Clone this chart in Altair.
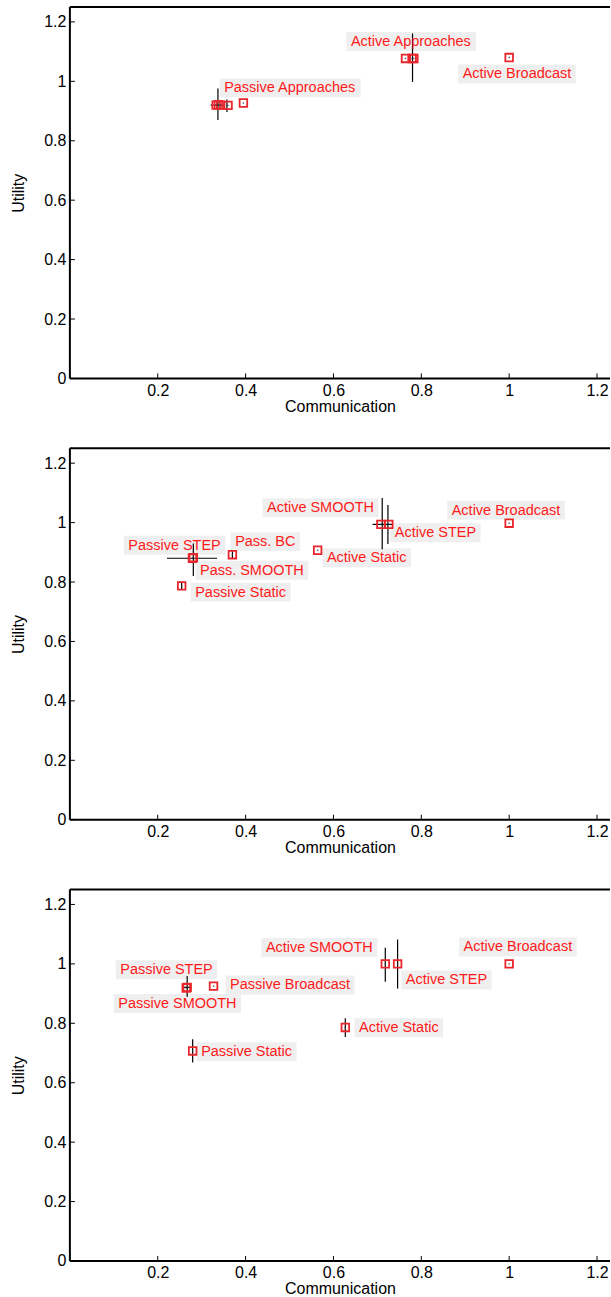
import altair as alt
import pandas as pd

FONT = "Liberation Sans"
LABEL_RED = "#ff1a1a"
MARK_RED = "#e8262b"
BOX_GREY = "#efefef"

PX_X = 440.0      # pixels per unit of communication
PX_Y = 297.6      # pixels per unit of utility
W = 541
H = 372
X_MAX = W / PX_X
Y_MAX = H / PX_Y
LABEL_SIZE = 14.5

# Arial advance widths (per 1000 em) for sizing the label backgrounds
ARIAL = {
    "A": 667, "B": 667, "C": 722, "E": 667, "H": 722, "M": 833, "O": 778,
    "P": 667, "S": 667, "T": 611, "a": 556, "c": 500, "d": 556, "e": 556,
    "h": 556, "i": 222, "o": 556, "p": 556, "r": 333, "s": 500, "t": 278,
    "v": 500, " ": 278, ".": 278,
}

x_ticks = [0.2, 0.4, 0.6, 0.8, 1.0, 1.2]
y_ticks = [0.0, 0.2, 0.4, 0.6, 0.8, 1.0, 1.2]

# ---- top: approach families ----
top_comm = [0.333, 0.338, 0.343, 0.360, 0.395, 0.764, 0.779, 0.783, 1.000]
top_util = [0.920, 0.921, 0.920, 0.919, 0.927, 1.077, 1.077, 1.077, 1.080]
top_vbar_comm = [0.337, 0.3575, 0.780]
top_vbar_lo = [0.870, 0.897, 0.998]
top_vbar_hi = [0.976, 0.939, 1.161]
top_hbar_util = [0.920]
top_hbar_lo = [0.3205]
top_hbar_hi = [0.3507]
top_labels = ["Active Approaches", "Active Broadcast", "Passive Approaches"]
top_label_x = [0.6295, 0.884, 0.341]
top_label_y = [1.134, 1.025, 0.978]

# ---- middle ----
mid_comm = [1.000, 0.708, 0.726, 0.564, 0.370, 0.281, 0.279, 0.2545]
mid_util = [0.998, 0.994, 0.994, 0.907, 0.892, 0.882, 0.880, 0.787]
mid_vbar_comm = [0.711, 0.724, 0.281, 0.2545, 0.370]
mid_vbar_lo = [0.910, 0.928, 0.820, 0.775, 0.880]
mid_vbar_hi = [1.083, 1.059, 0.930, 0.800, 0.904]
mid_hbar_util = [0.994, 0.880]
mid_hbar_lo = [0.689, 0.221]
mid_hbar_hi = [0.735, 0.335]
mid_labels = ["Active SMOOTH", "Active STEP", "Active Broadcast", "Active Static",
              "Pass. BC", "Passive STEP", "Pass. SMOOTH", "Passive Static"]
mid_label_x = [0.4386, 0.7295, 0.859, 0.575, 0.366, 0.1227, 0.286, 0.275]
mid_label_y = [1.050, 0.966, 1.042, 0.882, 0.936, 0.924, 0.840, 0.766]

# ---- bottom ----
bot_comm = [1.000, 0.718, 0.746, 0.627, 0.2795, 0.267, 0.265, 0.327]
bot_util = [1.000, 1.000, 1.000, 0.786, 0.707, 0.921, 0.919, 0.925]
bot_vbar_comm = [0.718, 0.746, 0.627, 0.2795, 0.267]
bot_vbar_lo = [0.940, 0.917, 0.754, 0.668, 0.889]
bot_vbar_hi = [1.054, 1.082, 0.817, 0.746, 0.959]
bot_hbar_util = [0.921]
bot_hbar_lo = [0.257]
bot_hbar_hi = [0.277]
bot_labels = ["Active SMOOTH", "Active STEP", "Active Broadcast", "Passive STEP",
              "Passive Broadcast", "Passive SMOOTH", "Active Static", "Passive Static"]
bot_label_x = [0.436, 0.7545, 0.886, 0.1045, 0.3545, 0.100, 0.648, 0.2886]
bot_label_y = [1.055, 0.946, 1.057, 0.980, 0.929, 0.867, 0.785, 0.704]


def text_width(s, size):
    return sum(ARIAL.get(c, 556) for c in s) / 1000.0 * size


XS = alt.Scale(domain=[0, X_MAX], nice=False, zero=False)
YS = alt.Scale(domain=[0, Y_MAX], nice=False, zero=False)
X_AXIS = alt.Axis(title="Communication", values=x_ticks, format=".1~f",
                  labelPadding=4, titlePadding=0)
Y_AXIS = alt.Axis(title="Utility", values=y_ticks, format=".1~f",
                  labelPadding=4, titlePadding=17)


def xq(field):
    return alt.X(field, type="quantitative", scale=XS, axis=X_AXIS)


def yq(field):
    return alt.Y(field, type="quantitative", scale=YS, axis=Y_AXIS)


def panel(comm, util, vb_c, vb_lo, vb_hi, hb_u, hb_lo, hb_hi, labels, lx, ly):
    pts = pd.DataFrame({"comm": comm, "util": util})
    vbars = pd.DataFrame({"comm": vb_c, "lo": vb_lo, "hi": vb_hi})
    hbars = pd.DataFrame({"util": hb_u, "lo": hb_lo, "hi": hb_hi})
    lab = pd.DataFrame({"text": labels, "lx": lx, "ly": ly})
    lab["bx1"] = lab["lx"] + [(text_width(t, LABEL_SIZE) + 9) / PX_X for t in labels]
    lab["by0"] = lab["ly"] - 9.5 / PX_Y
    lab["by1"] = lab["ly"] + 9.5 / PX_Y

    boxes = alt.Chart(lab).mark_rect(color=BOX_GREY).encode(
        x=xq("lx"), x2="bx1:Q", y=yq("by0"), y2="by1:Q",
    )
    texts = alt.Chart(lab).mark_text(
        align="left", baseline="middle", dx=4.5, dy=0.5,
        font=FONT, fontSize=LABEL_SIZE, color=LABEL_RED,
    ).encode(x=xq("lx"), y=yq("ly"), text="text:N")
    vrules = alt.Chart(vbars).mark_rule(color="black", strokeWidth=1.2).encode(
        x=xq("comm"), y=yq("lo"), y2="hi:Q",
    )
    hrules = alt.Chart(hbars).mark_rule(color="black", strokeWidth=1.2).encode(
        x=xq("lo"), x2="hi:Q", y=yq("util"),
    )
    squares = alt.Chart(pts).mark_point(
        shape="square", size=58, filled=False, color=MARK_RED, strokeWidth=1.8, opacity=1,
    ).encode(x=xq("comm"), y=yq("util"))
    dots = alt.Chart(pts).mark_point(
        shape="square", size=2, filled=True, color="#333333", opacity=0.8,
    ).encode(x=xq("comm"), y=yq("util"))
    # inward tick marks on both axes
    xt = alt.Chart(pd.DataFrame({"comm": x_ticks})).mark_rule(color="black", strokeWidth=1).encode(
        x=xq("comm"), y=alt.value(H), y2=alt.value(H - 5),
    )
    yt = alt.Chart(pd.DataFrame({"util": y_ticks})).mark_rule(color="black", strokeWidth=1).encode(
        y=yq("util"), x=alt.value(0), x2=alt.value(5),
    )
    # frame: top, left and bottom edges of the plot area
    frame_top = alt.Chart(pd.DataFrame({"comm": [0.0]})).mark_rule(color="black", strokeWidth=2).encode(
        x=alt.value(0), x2=alt.value(W), y=alt.value(0),
    )
    frame_left = alt.Chart(pd.DataFrame({"comm": [0.0]})).mark_rule(color="black", strokeWidth=2).encode(
        x=alt.value(0), y=alt.value(0), y2=alt.value(H),
    )
    frame_bottom = alt.Chart(pd.DataFrame({"comm": [0.0]})).mark_rule(color="black", strokeWidth=2).encode(
        x=alt.value(0), x2=alt.value(W), y=alt.value(H),
    )
    return alt.layer(boxes, vrules, hrules, texts, squares, dots, xt, yt,
                     frame_top, frame_left, frame_bottom).properties(width=W, height=H)


chart = alt.vconcat(
    panel(top_comm, top_util, top_vbar_comm, top_vbar_lo, top_vbar_hi,
          top_hbar_util, top_hbar_lo, top_hbar_hi, top_labels, top_label_x, top_label_y),
    panel(mid_comm, mid_util, mid_vbar_comm, mid_vbar_lo, mid_vbar_hi,
          mid_hbar_util, mid_hbar_lo, mid_hbar_hi, mid_labels, mid_label_x, mid_label_y),
    panel(bot_comm, bot_util, bot_vbar_comm, bot_vbar_lo, bot_vbar_hi,
          bot_hbar_util, bot_hbar_lo, bot_hbar_hi, bot_labels, bot_label_x, bot_label_y),
    spacing=33,
).properties(
    padding={"left": 10, "top": 5, "right": 0, "bottom": 0},
    background="white",
).configure_view(
    strokeWidth=0,
).configure_axis(
    domain=False, ticks=False, tickSize=0, grid=False, labelFlush=False,
    labelFont=FONT, labelFontSize=16, labelColor="black",
    titleFont=FONT, titleFontSize=16, titleFontWeight="normal", titleColor="black",
)

chart.save("out.html", embed_options={"renderer": "svg", "actions": False})
